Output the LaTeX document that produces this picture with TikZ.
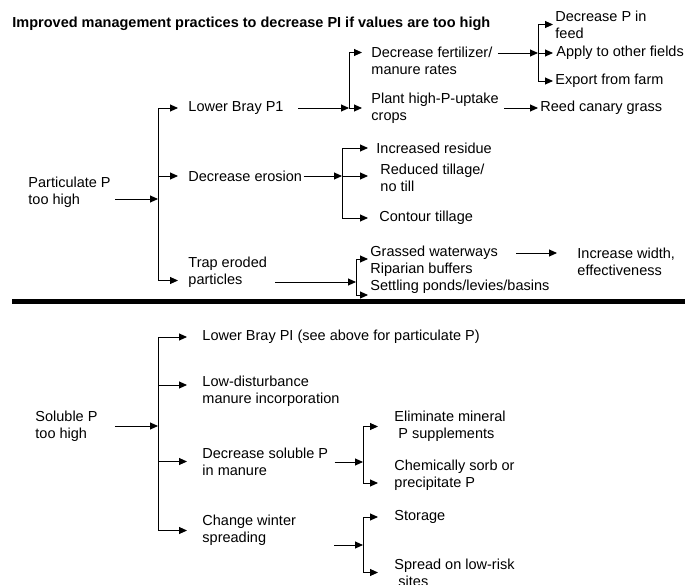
\documentclass[tikz,border=0pt]{standalone}
\usepackage{fontspec}
\setmainfont{Liberation Sans}
\usetikzlibrary{arrows.meta}
\begin{document}
\begin{tikzpicture}[x=1pt, y=-1pt, line width=0.9pt, every node/.style={font=\fontsize{14.5}{17}\selectfont},
  txt/.style={anchor=west,align=left,inner sep=0pt},
  arr/.style={-{Triangle[length=8pt,width=7pt]}}]
\useasboundingbox (0,0) rectangle (685,584);
\node[txt,font=\fontsize{14.5}{17}\selectfont\bfseries] (title) at (12,24) {Improved management practices to decrease PI if values are too high};
% particulate P
\node[txt] (pp) at (28,192) {Particulate P\\too high};
\coordinate (pj) at (158,199);
\draw[arr,shorten <=4pt] (pp.east |- pj) -- (pj);
\node[txt] (lb) at (188,108) {Lower Bray P1};
\node[txt] (de) at (188,176) {Decrease erosion};
\node[txt] (tr) at (188,272) {Trap eroded\\particles};
\draw[arr,shorten >=10pt] (pj) |- (lb); \draw[arr,shorten >=10pt] (pj) |- (de); \draw[arr,shorten >=10pt] (pj) |- ([yshift=-8.5pt]tr.west);
% lower Bray P1
\coordinate (lj) at (349,108);
\draw[arr,shorten <=14pt] (lb.east |- lj) -- (lj);
\node[txt] (fert) at (371,61) {Decrease fertilizer/\\manure rates};
\node[txt] (plant) at (371,108.5) {Plant high-P-uptake\\crops};
\draw[arr,shorten >=9pt] (lj) |- ([yshift=8.5pt]fert.west); \draw[arr,shorten >=9pt] (lj) -- (plant.west |- lj);
\coordinate (fj) at (538,53);
\draw[arr,shorten <=5pt] (fert.east |- fj) -- (fj);
\node[txt] (dpf) at (555,24.5) {Decrease P in\\feed};
\node[txt] (apply) at (556,53) {Apply to other fields};
\node[txt] (exp) at (555,81) {Export from farm};
\draw[arr,shorten >=2pt] (fj) |- (dpf); \draw[arr,shorten >=3pt] (fj) -- (apply); \draw[arr,shorten >=2pt] (fj) |- (exp);
\node[txt] (reed) at (540,108) {Reed canary grass};
\draw[arr,shorten <=5pt,shorten >=2pt] (plant.east |- reed) -- (reed);
% erosion
\coordinate (ej) at (342,176);
\draw[arr,shorten <=1pt] (de) -- (ej);
\node[txt] (ir) at (376,148) {Increased residue};
\node[txt] (rt) at (380,177.5) {Reduced tillage/\\no till};
\node[txt] (ct) at (379,218) {Contour tillage};
\draw[arr,shorten >=8pt] (ej) |- (ir); \draw[arr,shorten >=12pt] (ej) -- (rt.west |- ej); \draw[arr,shorten >=11pt] (ej) |- (ct);
% trap
\coordinate (tj) at (356,282);
\draw[arr,shorten <=8pt] (tr.east |- tj) -- (tj);
\node[txt] (gw) at (370,253) {Grassed waterways};
\node[txt] (rb) at (370,270) {Riparian buffers};
\node[txt] (spb) at (370,287) {Settling ponds/levies/basins};
\draw[arr,shorten >=2pt] (tj) |- ([yshift=-6pt]gw.west); \draw[arr,shorten >=2pt] (tj) |- ([yshift=-8pt]spb.west);
\node[txt] (iw) at (577,261.5) {Increase width,\\effectiveness};
\draw[arr,shorten <=18pt,shorten >=20pt] (gw.east) -- (iw.west |- gw.east);
% separator
\draw[line width=5pt] (12,301.5) -- (685,301.5);
% soluble P
\node[txt] (sol) at (35,426.5) {Soluble P\\too high};
\coordinate (sj) at (158,426);
\draw[arr,shorten <=17pt] (sol.east |- sj) -- (sj);
\node[txt] (lbp) at (202,337) {Lower Bray PI (see above for particulate P)};
\node[txt] (ld) at (202,391.5) {Low-disturbance\\manure incorporation};
\node[txt] (dsp) at (202,461.5) {Decrease soluble P\\in manure};
\node[txt] (cw) at (202,530.5) {Change winter\\spreading};
\draw[arr,shorten >=15pt] (sj) |- (lbp); \draw[arr,shorten >=15pt] (sj) |- ([yshift=6.5pt]ld.west);
\draw[arr,shorten >=15pt] (sj) |- (dsp); \draw[arr,shorten >=15pt] (sj) |- (cw);
% soluble P in manure
\coordinate (dj) at (363,462);
\draw[arr,shorten <=6pt] (dsp.east |- dj) -- (dj);
\node[txt] (em) at (394,426.5) {Eliminate mineral\\\ P supplements};
\node[txt] (cs) at (394,475) {Chemically sorb or\\precipitate P};
\draw[arr,shorten >=16pt] (dj) |- (em); \draw[arr,shorten >=16pt] (dj) |- ([yshift=-8pt]cs.west);
% winter spreading
\coordinate (cj) at (363,545);
\draw[arr,shorten <=38pt] (cw.east |- cj) -- (cj);
\node[txt] (st) at (394,517) {Storage};
\node[txt] (sl) at (394,572.5) {Spread on low-risk\\\ sites};
\draw[arr,shorten >=16pt] (cj) |- (st); \draw[arr,shorten >=16pt] (cj) |- (sl);
\end{tikzpicture}
\end{document}
